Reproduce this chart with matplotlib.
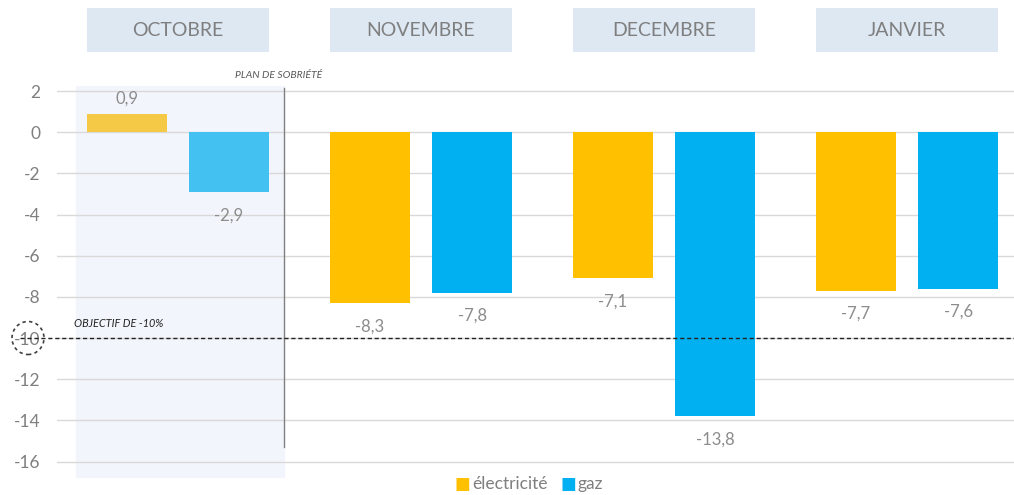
import matplotlib.pyplot as plt
import matplotlib.transforms as mtransforms
from matplotlib.patches import Rectangle, Ellipse
import numpy as np

months = ['OCTOBRE', 'NOVEMBRE', 'DECEMBRE', 'JANVIER']
elec = [0.9, -8.3, -7.1, -7.7]
gaz = [-2.9, -7.8, -13.8, -7.6]
yticks = [2, 0, -2, -4, -6, -8, -10, -12, -14, -16]
objectif = -10


def fmt(v):
    return ('%.1f' % v).replace('.', ',')


def main():
    plt.rcParams['font.family'] = ['Lato', 'DejaVu Sans']
    grey = '#7f7f7f'
    fig = plt.figure(figsize=(10.14, 4.95), dpi=100)
    ax = fig.add_axes([57 / 1014, 1 - 478 / 495, 1 - 57 / 1014, (478 - 86) / 495])

    x = np.arange(len(months))
    w = 0.33
    off = 0.21
    ecol = ['#f5c945'] + ['#ffc000'] * 3
    gcol = ['#43c1f0'] + ['#00b0f0'] * 3
    ax.bar(x - off, elec, w, color=ecol, zorder=3)
    ax.bar(x + off, gaz, w, color=gcol, zorder=3)

    for xs, vals in [(x - off, elec), (x + off, gaz)]:
        for xi, v in zip(xs, vals):
            dy = 5 if v > 0 else -11
            ax.annotate(fmt(v), (xi, v), xytext=(0, dy), textcoords='offset points',
                        ha='center', va='bottom' if v > 0 else 'top',
                        fontsize=12, color='#8c8c8c', zorder=4)

    ax.set_xlim(-0.498, 3.44)
    ax.set_ylim(-16.8, 2.25)
    ax.set_yticks(yticks)
    ax.set_yticklabels([str(t) for t in yticks])
    ax.tick_params(axis='y', length=0, pad=12, labelsize=12.5, labelcolor=grey)
    ax.set_xticks([])
    for s in ax.spines.values():
        s.set_visible(False)
    ax.grid(axis='y', color='#d9d9d9', linewidth=1, zorder=0)

    # octobre zone (before plan de sobriete)
    ax.axvspan(-0.42, 0.435, color='#f2f5fb', zorder=1)
    ax.plot([0.435, 0.435], [2.15, -15.3], color='#808080', linewidth=1, zorder=4)
    ax.text(0.415, 2.78, 'PLAN DE SOBRIÉTÉ', fontsize=7.5, style='italic', color='#595959',
            ha='center', va='center', clip_on=False)

    # objectif
    trans = mtransforms.blended_transform_factory(fig.transFigure, ax.transData)
    ax.plot([20 / 1014, 1.0], [objectif, objectif], transform=trans, color='#222222',
            linewidth=1, linestyle=(0, (3, 2)), zorder=5, clip_on=False)
    ax.text(-0.43, objectif + 0.45, 'OBJECTIF DE -10%', fontsize=7.8, style='italic',
            color='#222222', ha='left', va='bottom')
    circ = Ellipse((28 / 1014, 1 - 338 / 495), 32 / 1014, 33 / 495, transform=fig.transFigure,
                   fill=False, edgecolor='#404040', linestyle=(0, (2, 2)), linewidth=1.2)
    fig.patches.append(circ)

    # month headers
    hdr = mtransforms.blended_transform_factory(ax.transData, fig.transFigure)
    for xi, m in zip(x, months):
        ax.add_patch(Rectangle((xi - 0.375, 1 - 52 / 495), 0.75, 44 / 495, transform=hdr,
                               facecolor='#dde8f3', edgecolor='none', clip_on=False))
        ax.text(xi, 1 - 30 / 495, m, transform=hdr, ha='center', va='center',
                fontsize=14, color=grey, clip_on=False)

    # legend
    fig.text(462 / 1014, 1 - 484 / 495, '■', color='#ffc000', fontsize=12, ha='center', va='center',
             family='DejaVu Sans')
    fig.text(472 / 1014, 1 - 484 / 495, 'électricité', color=grey, fontsize=12.5, ha='left', va='center')
    fig.text(568 / 1014, 1 - 484 / 495, '■', color='#00b0f0', fontsize=12, ha='center', va='center',
             family='DejaVu Sans')
    fig.text(578 / 1014, 1 - 484 / 495, 'gaz', color=grey, fontsize=12.5, ha='left', va='center')

    fig.savefig('out.png', dpi=100)


if __name__ == '__main__':
    main()
